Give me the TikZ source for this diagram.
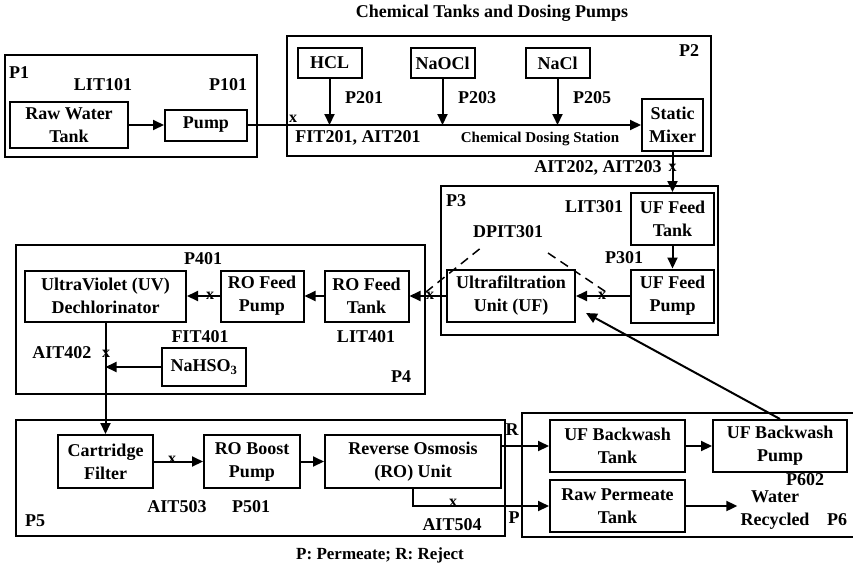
\documentclass[tikz,border=0pt]{standalone}
\usepackage{fontspec}
\setmainfont{Liberation Serif}
\usetikzlibrary{arrows.meta,positioning,calc}

\begin{document}
\begin{tikzpicture}[x=1pt,y=-1pt,font=\fontsize{18}{23}\selectfont\bfseries,
  unit/.style={draw,line width=2pt,align=center,inner sep=0pt},
  frame/.style={line width=2pt},
  pipe/.style={line width=2pt},
  flow/.style={line width=2pt,-{Triangle[length=11pt,width=10pt]}},
  xmark/.style={font=\fontsize{16}{16}\selectfont\bfseries,inner sep=0pt}]
  \useasboundingbox (0,0) rectangle (853,568);
  \node (ttl) at (492,13) {Chemical Tanks and Dosing Pumps};

  % stage frames
  \draw[frame] (5,55) rectangle (257,157);
  \draw[frame] (287,36) rectangle (711,156);
  \draw[frame] (441,186) rectangle (718,335);
  \draw[frame] (16,245) rectangle (425,394);
  \draw[frame] (16,420) rectangle (505,536);
  \draw[frame] (522,413) rectangle (875,537);

  % P1
  \node (p1) at (19,73) {P1};
  \node (lit101) at (103,85) {LIT101};
  \node (p101) at (228,85) {P101};
  \node[unit,minimum width=118,minimum height=46] (rawtank) at (69,125) {Raw Water\\Tank};
  \node[unit,minimum width=82,minimum height=31] (pump101) at (206,125) {Pump};
  \draw[flow] (rawtank) -- (pump101);

  % P2
  \node (p2) at (689,51) {P2};
  \node[unit,minimum width=61,minimum height=52] (mixer) at (672.5,125) {Static\\Mixer};
  \draw[flow] (pump101) -- (mixer);
  \foreach \nm/\x/\lab/\pmp in {hcl/329.5/HCL/P201, naocl/442.5/NaOCl/P203, nacl/557.5/NaCl/P205} {
    \node[unit,minimum width=64,minimum height=30] (\nm) at (\x,63) {\lab};
    \node[anchor=west] at ($(\x,98)+(12,0)$) {\pmp};
    \draw[flow] (\nm) -- (\nm |- mixer);
  }
  \node[xmark] (xfit) at (293,119) {x};
  \node (fit201) at (358,138) {FIT201, AIT201};
  \node[font=\fontsize{15}{18}\selectfont\bfseries] (cds) at (540,139) {Chemical Dosing Station};

  % P3
  \node (p3) at (456,201) {P3};
  \node (lit301) at (594,207) {LIT301};
  \node (p301) at (624,258) {P301};
  \node (dpit) at (508,232) {DPIT301};
  \node[unit,minimum width=83,minimum height=52] (uftank) at (672.5,219) {UF Feed\\Tank};
  \node[unit,minimum width=83,minimum height=53] (ufpump) at (672.5,296) {UF Feed\\Pump};
  \node[unit,minimum width=128,minimum height=52] (ufunit) at (511,296) {Ultrafiltration\\Unit (UF)};
  \draw[flow] (mixer) -- (uftank);
  \node[xmark] (xmix) at (672.5,168) {x};
  \node (ait202) at (598,168) {AIT202, AIT203};
  \draw[flow] (uftank) -- (ufpump);
  \draw[flow] (ufpump) -- (ufunit);
  \node[xmark] (xout) at (602,296) {x};

  % P4
  \node (p401) at (203,259) {P401};
  \node[unit,minimum width=84,minimum height=51] (rotank) at (366.5,296) {RO Feed\\Tank};
  \node[unit,minimum width=83,minimum height=51] (ropump) at (262,296) {RO Feed\\Pump};
  \node[unit,minimum width=161,minimum height=51] (uv) at (105.5,296) {UltraViolet (UV)\\Dechlorinator};
  \draw[flow] (ufunit) -- (rotank);
  \node[xmark] (xin) at (430,296) {x};
  \draw[flow] (rotank) -- (ropump);
  \draw[flow] (ropump) -- (uv);
  \node[xmark] (xuv) at (210,296) {x};
  \node (fit401) at (200,337) {FIT401};
  \node (lit401) at (366,337) {LIT401};
  \node (ait402) at (62,353) {AIT402};
  \node (p4) at (401,377) {P4};
  \node[unit,minimum width=84,minimum height=38] (nahso) at (204,367) {NaHSO$_\mathbf{3}$};

  % DPIT301 taps
  \coordinate (dpl) at (482,247);
  \coordinate (dpr) at (548,253);
  \draw[line width=1.5pt,dash pattern=on 9pt off 6pt] (xin.north west) -- (dpl);
  \draw[line width=1.5pt,dash pattern=on 9pt off 6pt] (dpr) -- (xout.north east);

  % P5
  \node (p5) at (35,521) {P5};
  \node[unit,minimum width=95,minimum height=53] (cfilter) at (105.5,461.5) {Cartridge\\Filter};
  \node[unit,minimum width=96,minimum height=53] (roboost) at (252,461.5) {RO Boost\\Pump};
  \node[unit,minimum width=176,minimum height=53] (rounit) at (413,461.5) {Reverse Osmosis\\(RO) Unit};
  \draw[flow] (uv) -- (cfilter);
  \node[xmark] (xdos) at (106,354) {x};
  \coordinate (dosin) at (uv.south |- nahso.west);
  \draw[flow] (nahso) -- (dosin);
  \draw[flow] (cfilter) -- (roboost);
  \node[xmark] (xcf) at (172,460) {x};
  \draw[flow] (roboost) -- (rounit);
  \node (ait503) at (177,507) {AIT503};
  \node (p501) at (251,507) {P501};
  \node (rej) at (512,430) {R};
  \node (perm) at (514,518) {P};
  \node (ait504) at (452,525) {AIT504};

  % P6
  \node[unit,minimum width=135,minimum height=52] (bwtank) at (617.5,446) {UF Backwash\\Tank};
  \node[unit,minimum width=134,minimum height=52] (bwpump) at (780,446) {UF Backwash\\Pump};
  \node[unit,minimum width=135,minimum height=52] (permtank) at (617.5,506) {Raw Permeate\\Tank};
  \node[align=center,inner sep=0pt] (recyc) at (775,510) {Water\\Recycled};
  \node[inner sep=0pt] (p602) at (805,480) {P602};
  \node (p6) at (837,520) {P6};
  \draw[flow] (rounit.east |- bwtank) -- (bwtank);
  \draw[flow] (rounit.south) |- (permtank);
  \node[xmark] (xro) at (453,503) {x};
  \draw[flow] (bwtank) -- (bwpump);
  \draw[flow] (permtank) -- ([xshift=-3pt]recyc.west |- permtank);
  \draw[flow] (bwpump.north) -- ([shift={(10pt,10pt)}]ufunit.south east);

  \node[font=\fontsize{17}{20}\selectfont\bfseries] (note) at (380,555) {P: Permeate; R: Reject};
\end{tikzpicture}
\end{document}
